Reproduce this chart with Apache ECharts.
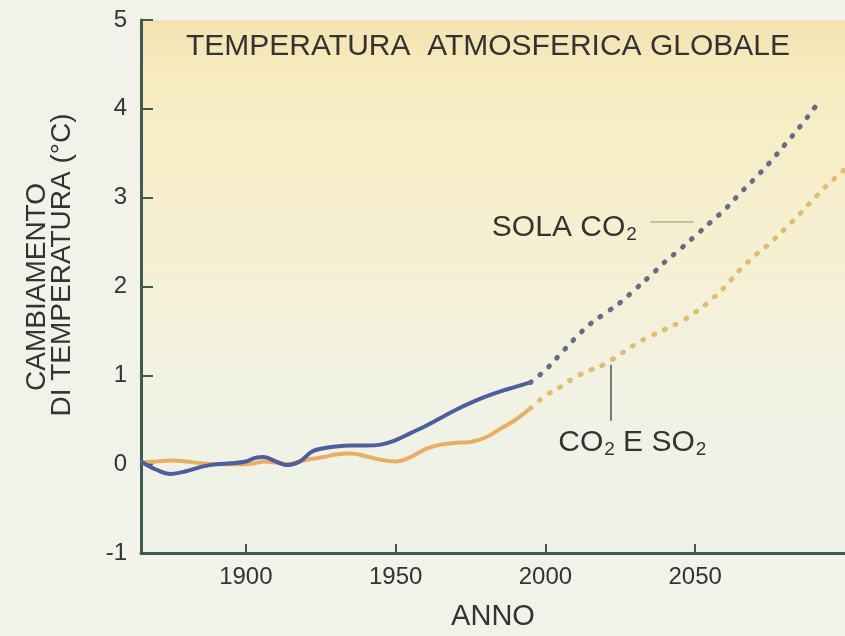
<!DOCTYPE html>
<html>
<head>
<meta charset="utf-8">
<script src="https://cdn.jsdelivr.net/npm/echarts@6/dist/echarts.min.js"></script>
<style>
html,body{margin:0;padding:0;background:#f2f1ea;}
#c{width:845px;height:636px;}
</style>
</head>
<body>
<div id="c"></div>
<script>
const FONT = "'Liberation Sans',Arial,Helvetica,sans-serif";
const TXT = '#333333';

const obsYears = [1865,1870,1875,1880,1885,1890,1895,1900,1903,1906,1910,1914,1918,1922,1926,1930,1935,1940,1945,1950,1955,1960,1965,1970,1975,1980,1985,1990,1995];
const co2Obs   = [0.03,-0.06,-0.11,-0.08,-0.03,0.0,0.01,0.03,0.07,0.08,0.03,-0.01,0.03,0.14,0.18,0.20,0.21,0.21,0.22,0.27,0.35,0.43,0.52,0.61,0.69,0.76,0.82,0.87,0.92];
const co2so2Obs= [0.02,0.03,0.04,0.03,0.01,0.0,0.0,0.0,0.01,0.03,0.02,0.0,0.03,0.06,0.08,0.11,0.12,0.09,0.05,0.03,0.08,0.17,0.22,0.24,0.25,0.30,0.40,0.50,0.63];

const co2ProjYears = [1995,2000,2005,2010,2015,2020,2025,2030,2035,2040,2045,2050,2055,2060,2065,2070,2075,2080,2085,2090];
const co2Proj      = [0.92,1.06,1.24,1.42,1.58,1.70,1.82,1.97,2.12,2.28,2.42,2.57,2.72,2.87,3.05,3.22,3.40,3.60,3.80,4.02];

const co2so2ProjYears = [1995,2000,2005,2010,2015,2020,2025,2030,2035,2040,2045,2050,2055,2060,2065,2070,2075,2080,2085,2090,2095,2100];
const co2so2Proj      = [0.63,0.77,0.87,0.98,1.06,1.13,1.24,1.35,1.44,1.52,1.60,1.71,1.84,2.00,2.19,2.35,2.49,2.65,2.82,3.00,3.17,3.32];

const xTicks = [1900,1950,2000,2050];
const title = 'TEMPERATURA  ATMOSFERICA GLOBALE';
const yName1 = 'CAMBIAMENTO';
const yName2 = 'DI TEMPERATURA (°C)';
const xName = 'ANNO';

const zip = (xs, ys) => xs.map((x,i)=>[x, ys[i]]);

const chart = echarts.init(document.getElementById('c'));
const option = {
  backgroundColor: '#f2f1ea',
  animation: false,
  grid: {
    left: 141, right: 0, top: 20, bottom: 79, show: true, borderWidth: 0,
    backgroundColor: new echarts.graphic.LinearGradient(0,0,0,1,[
      {offset:0, color:'#f4e3b0'},
      {offset:0.12, color:'#f7ecc2'},
      {offset:0.45, color:'#f6f0d3'},
      {offset:0.7, color:'#f1f2e4'},
      {offset:1, color:'#edf1e8'}
    ])
  },
  xAxis: {
    type: 'value', min: 1865, max: 2100,
    name: xName, nameLocation: 'middle', nameGap: 49,
    nameTextStyle: {fontFamily: FONT, fontSize: 29, color: TXT},
    axisLine: {show: true, onZero: false, lineStyle: {color: '#3f5a4e', width: 3}},
    axisTick: {show: true, inside: true, length: 9, customValues: xTicks, lineStyle: {color: '#3f5a4e', width: 2}},
    axisLabel: {customValues: xTicks, formatter: v => String(v), fontFamily: FONT, fontSize: 24, color: TXT, margin: 12},
    splitLine: {show: false}
  },
  yAxis: {
    type: 'value', min: -1, max: 5, interval: 1,
    axisLine: {show: true, onZero: false, lineStyle: {color: '#3f5a4e', width: 3}},
    axisTick: {show: true, inside: true, length: 12, lineStyle: {color: '#3f5a4e', width: 2}},
    axisLabel: {fontFamily: FONT, fontSize: 24, color: TXT, margin: 14},
    splitLine: {show: false}
  },
  series: [
    {type:'line', name:'CO2 E SO2 oss', data: zip(obsYears, co2so2Obs), smooth: 0.4, symbol:'none',
     lineStyle:{color:'#e9ae63', width:4}, z:2},
    {type:'line', name:'SOLA CO2 oss', data: zip(obsYears, co2Obs), smooth: 0.4, symbol:'none',
     lineStyle:{color:'#4b5f9e', width:4}, z:3},
    {type:'line', name:'CO2 E SO2 proj', data: zip(co2so2ProjYears, co2so2Proj), smooth: 0.4, symbol:'none',
     lineStyle:{color:'#e2bd70', width:5, type:[1,11], cap:'round'}, z:2},
    {type:'line', name:'SOLA CO2 proj', data: zip(co2ProjYears, co2Proj), smooth: 0.4, symbol:'none',
     lineStyle:{color:'#676b85', width:5, type:[1,11], cap:'round'}, z:3,
     markLine: {silent:true, symbol:'none', label:{show:false},
       data: [
         [{coord:[2035, 2.73], lineStyle:{color:'#c9c09a', width:2, type:'solid'}}, {coord:[2049.5, 2.73]}],
         [{coord:[2021.7, 1.12], lineStyle:{color:'#7a7a7a', width:2, type:'solid'}}, {coord:[2021.7, 0.49]}]
       ]}
    }
  ]
};
chart.setOption(option);

const sub = {fontFamily: FONT, fontSize: 19, color: TXT, padding:[14,0,0,1]};
const p1 = chart.convertToPixel({gridIndex:0}, [2030.5, 2.66]);
const p2 = chart.convertToPixel({gridIndex:0}, [2029, 0.24]);
chart.setOption({
  graphic: [
    {type:'text', x: 488, y: 47, style:{text: title, fontFamily: FONT, fontSize: 30, fill: TXT, align:'center', verticalAlign:'middle'}},
    {type:'text', x: 37, y: 287, rotation: Math.PI/2, style:{text: yName1, fontFamily: FONT, fontSize: 28, fill: TXT, align:'center', verticalAlign:'middle'}},
    {type:'text', x: 62, y: 265, rotation: Math.PI/2, style:{text: yName2, fontFamily: FONT, fontSize: 28, fill: TXT, align:'center', verticalAlign:'middle'}},
    {type:'text', x: p1[0], y: p1[1], style:{text: 'SOLA CO{s|2}', rich:{s:sub}, fontFamily: FONT, fontSize: 30, fill: TXT, align:'right', verticalAlign:'middle'}},
    {type:'text', x: p2[0], y: p2[1], style:{text: 'CO{s|2} E SO{s|2}', rich:{s:sub}, fontFamily: FONT, fontSize: 30, fill: TXT, align:'center', verticalAlign:'middle'}}
  ]
});
</script>
</body>
</html>
